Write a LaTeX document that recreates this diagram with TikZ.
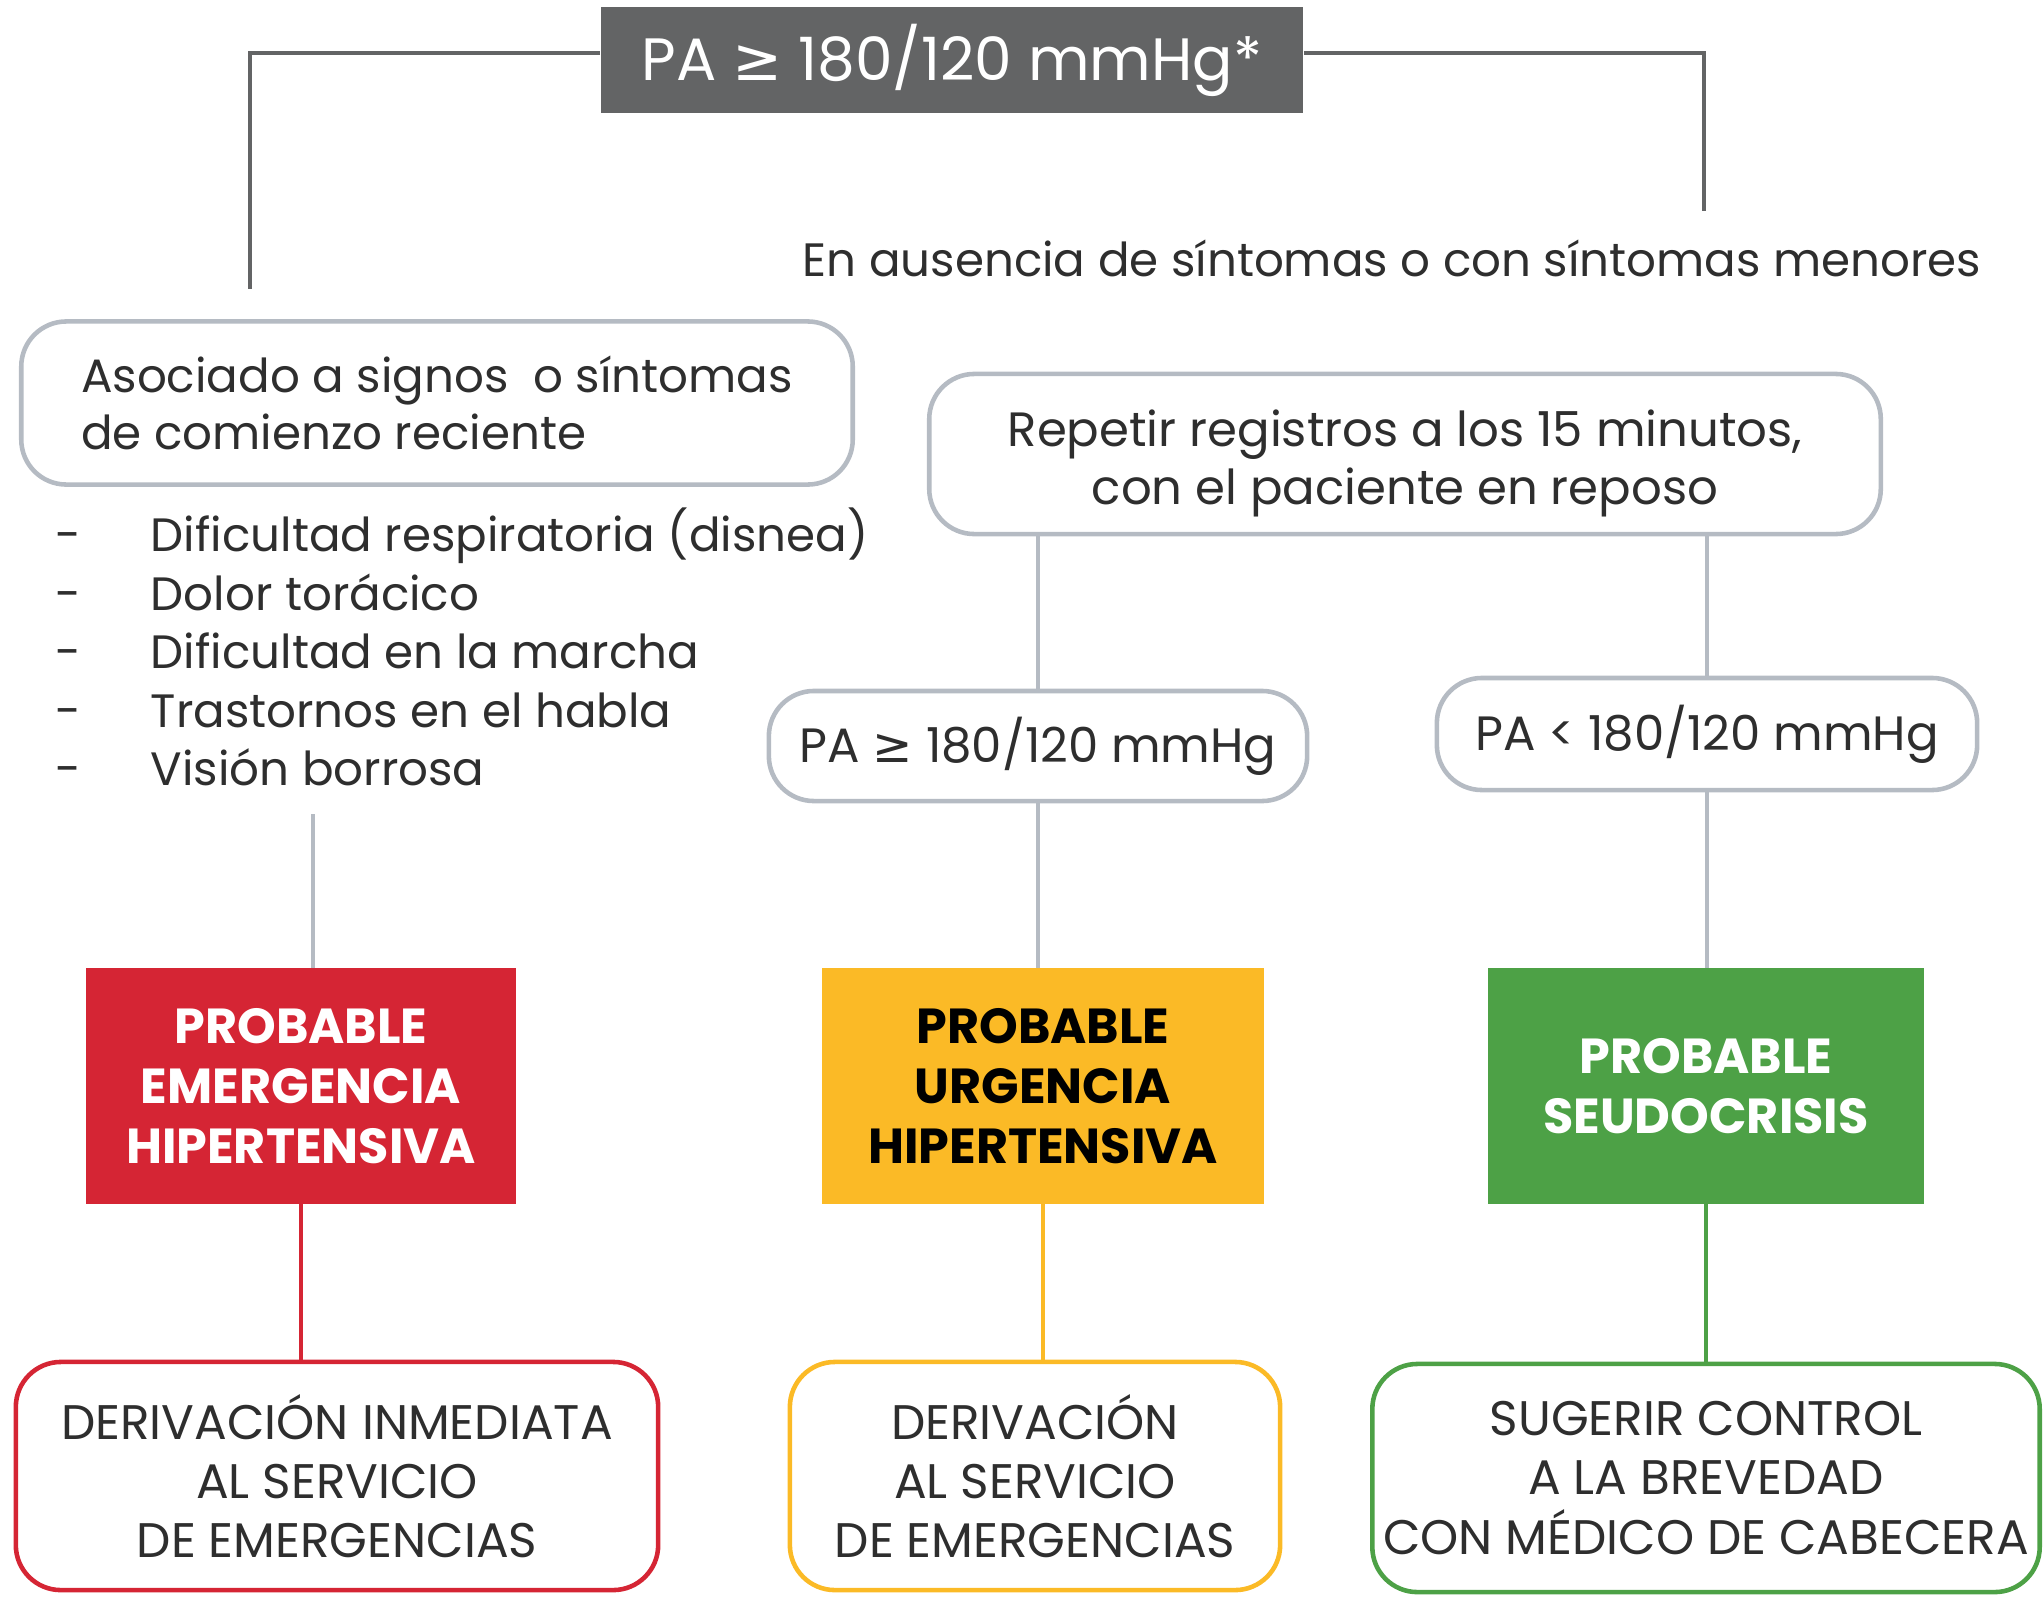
\documentclass[tikz,border=0pt]{standalone}
\usepackage{fontspec}
\setmainfont{Poppins}
\newfontfamily\dejavu{DejaVu Sans}
\newcommand\gesign{{\dejavu ≥}}
\definecolor{topgray}{HTML}{636465}
\definecolor{linegray}{HTML}{B5BBC3}
\definecolor{txtgray}{HTML}{2E2E2E}
\definecolor{emred}{HTML}{D52534}
\definecolor{urgyellow}{HTML}{FBBA26}
\definecolor{seugreen}{HTML}{4DA146}
\tikzstyle{pillbox}=[
    draw=linegray, line width=1.3pt,
    rounded corners=0.45cm,
    fill=white, align=center, inner sep=0pt,
    font=\fontsize{13.7}{16.5}\selectfont,
]
\tikzstyle{colorbox}=[
    minimum height=2.35cm, inner sep=0pt, align=center,
    font=\bfseries\fontsize{14}{17}\selectfont,
]
\tikzstyle{endbox}=[
    line width=1.3pt, rounded corners=0.45cm, fill=white,
    minimum height=2.28cm, inner sep=0pt, align=center,
    font=\fontsize{13.8}{16.8}\selectfont,
]
\tikzstyle{toplink}=[topgray, line width=1.3pt]
\tikzstyle{graylink}=[linegray, line width=1.3pt]

\begin{document}
\begin{tikzpicture}[x=0.01cm, y=-0.01cm, text=txtgray,
    font=\fontsize{13.3}{16.3}\selectfont]
    \useasboundingbox (0,0) rectangle (2043,1606);
    \node[fill=topgray, text=white, minimum width=7.02cm, minimum height=1.06cm,
        font=\fontsize{17}{20}\selectfont] (top) at (952,60) {PA \gesign{} 180/120 mmHg*};
    \coordinate (lefttip) at (250,289);
    \coordinate (righttip) at (1704,211);
    \draw[toplink] ([yshift=0.07cm]top.west) -| (lefttip);
    \draw[toplink] ([yshift=0.07cm]top.east) -| (righttip);
    \node (ausencia) at (1392,258) {En ausencia de síntomas o con síntomas menores};

    \node[pillbox, font=\fontsize{13.3}{16.3}\selectfont, minimum width=8.31cm,
        minimum height=1.63cm, align=left]
        (asociado) at (437,403) {Asociado a signos\ \ o síntomas\\de comienzo reciente};
    \foreach \sym [count=\i] in {Dificultad respiratoria (disnea), Dolor torácico,
        Dificultad en la marcha, Trastornos en el habla, Visión borrosa} {
        \node[anchor=base west, inner sep=0pt] (dash\i) at (55, 493+58.5*\i) {-};
        \node[anchor=base west, inner sep=0pt] (item\i) at (150, 493+58.5*\i) {\sym};
    }
    \coordinate (listend) at (313,814);

    \node[colorbox, fill=emred, text=white, minimum width=4.3cm]
        (emerg) at (301,1086) {PROBABLE\\EMERGENCIA\\HIPERTENSIVA};
    \node[endbox, draw=emred, minimum width=6.42cm]
        (deriv1) at (337,1476) {DERIVACIÓN INMEDIATA\\AL SERVICIO\\DE EMERGENCIAS};
    \draw[graylink] (listend) -- (listend |- emerg.north);
    \draw[emred, line width=1.3pt] (emerg.south) -- (emerg.south |- deriv1.north);

    \node[pillbox, minimum width=9.51cm, minimum height=1.60cm]
        (repetir) at (1405,454) {\rule{0pt}{0.56cm}Repetir registros a los 15 minutos,\\con el paciente en reposo};
    \node[pillbox, minimum width=5.38cm, minimum height=1.10cm]
        (paalta) at (1038,746) {PA \gesign{} 180/120 mmHg};
    \node[pillbox, minimum width=5.40cm, minimum height=1.12cm]
        (pabaja) at (1707,734) {PA < 180/120 mmHg};
    \draw[graylink] (paalta.north |- repetir.south) -- (paalta.north);
    \draw[graylink] (pabaja.north |- repetir.south) -- (pabaja.north);

    \node[colorbox, fill=urgyellow, text=black, minimum width=4.42cm]
        (urgencia) at (1043,1086) {PROBABLE\\URGENCIA\\HIPERTENSIVA};
    \node[endbox, draw=urgyellow, minimum width=4.9cm]
        (deriv2) at (1035,1476) {DERIVACIÓN\\AL SERVICIO\\DE EMERGENCIAS};
    \draw[graylink] (paalta.south) -- (paalta.south |- urgencia.north);
    \draw[urgyellow, line width=1.3pt] (urgencia.south) -- (urgencia.south |- deriv2.north);

    \node[colorbox, fill=seugreen, text=white, minimum width=4.35cm]
        (seudo) at (1706,1086) {PROBABLE\\SEUDOCRISIS};
    \node[endbox, draw=seugreen, minimum width=6.67cm]
        (control) at (1706,1478) {SUGERIR CONTROL\\A LA BREVEDAD\\CON MÉDICO DE CABECERA};
    \draw[graylink] (pabaja.south) -- (pabaja.south |- seudo.north);
    \draw[seugreen, line width=1.3pt] (seudo.south) -- (seudo.south |- control.north);
\end{tikzpicture}
\end{document}
